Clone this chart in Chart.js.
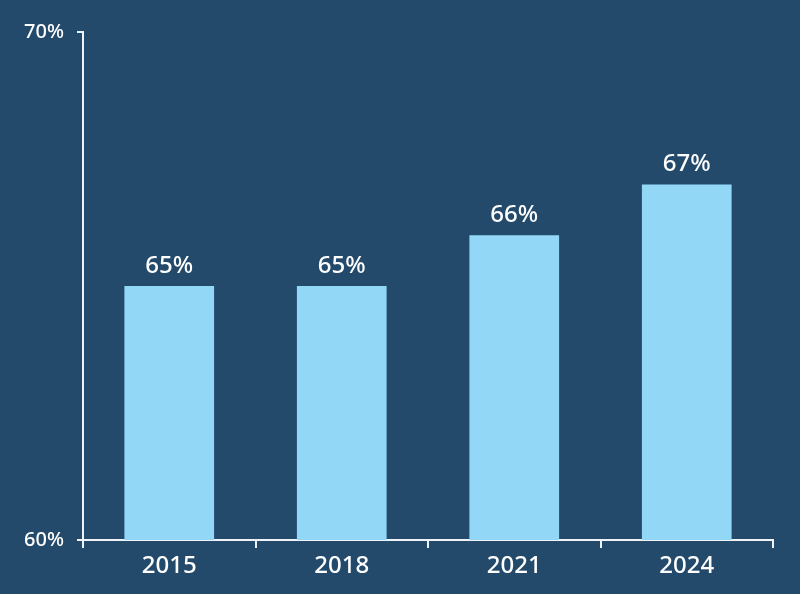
<!DOCTYPE html>
<html>
<head>
<meta charset="utf-8">
<script src="https://cdn.jsdelivr.net/npm/chart.js@4"></script>
<style>
  html, body { margin: 0; padding: 0; background: #234a6b; }
  #wrap { width: 800px; height: 594px; }
</style>
</head>
<body>
<div id="wrap"><canvas id="bar-chart"></canvas></div>
<script>
'use strict';

var YEARS  = ['2015', '2018', '2021', '2024'];
var SHARES = [65, 65, 66, 67];
var Y_MIN  = 60;
var Y_MAX  = 70;

var BG     = '#234a6b';
var BAR    = '#93d7f7';
var AXIS   = '#eef3f7';
var FONT   = '"Noto Sans", Lato, sans-serif';

// value labels above each bar
var barLabels = {
  id: 'barLabels',
  afterDatasetsDraw: function(chart) {
    var ctx  = chart.ctx;
    var meta = chart.getDatasetMeta(0);
    ctx.save();
    ctx.fillStyle    = '#ffffff';
    ctx.font         = '500 24px ' + FONT;
    ctx.textAlign    = 'center';
    ctx.textBaseline = 'bottom';
    meta.data.forEach(function(bar, i) {
      ctx.fillText(SHARES[i] + '%', bar.x, bar.y - 8);
    });
    ctx.restore();
  },
};

var ctx = document.getElementById('bar-chart').getContext('2d');

new Chart(ctx, {
  type: 'bar',
  data: {
    labels: YEARS,
    datasets: [{
      data:               SHARES,
      backgroundColor:    BAR,
      borderWidth:        0,
      barPercentage:      0.52,
      categoryPercentage: 1,
    }],
  },
  options: {
    responsive: true,
    maintainAspectRatio: false,
    animation: false,
    layout: { padding: { top: 32, right: 27 } },
    plugins: {
      legend:  { display: false },
      tooltip: { enabled: false },
    },
    scales: {
      x: {
        grid:   { display: true, drawOnChartArea: false, offset: true,
                  color: AXIS, lineWidth: 2, tickLength: 8 },
        border: { color: AXIS, width: 2 },
        ticks:  { color: '#ffffff', font: { family: FONT, size: 24, weight: '500' },
                  padding: 4 },
        afterFit: function(s) { s.height = 54; },
      },
      y: {
        min: Y_MIN,
        max: Y_MAX,
        grid:   { display: true, drawOnChartArea: false,
                  color: AXIS, lineWidth: 2, tickLength: 6 },
        border: { color: AXIS, width: 2 },
        ticks:  { stepSize: 10, color: '#ffffff', padding: 13,
                  font: { family: FONT, size: 20, weight: '500' },
                  callback: function(v) { return v + '%'; } },
        afterFit: function(s) { s.width = 83; },
      },
    },
  },
  plugins: [barLabels],
});
</script>
</body>
</html>
